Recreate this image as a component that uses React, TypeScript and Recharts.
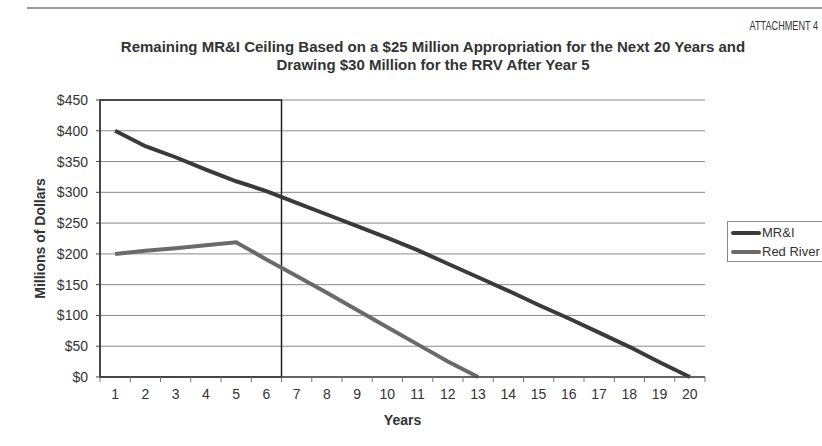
import React from "react";
import {
  LineChart,
  Line,
  XAxis,
  YAxis,
  CartesianGrid,
  Legend,
  ReferenceArea,
} from "recharts";

const years = [1, 2, 3, 4, 5, 6, 7, 8, 9, 10, 11, 12, 13, 14, 15, 16, 17, 18, 19, 20];
const mriValues = [400, 375, 357, 337, 318, 302, 283, 264, 245, 226, 206, 184, 162, 140, 117, 95, 72, 49, 24, 0];
const redRiverValues = [200, 205, 209, 214, 219, 191, 164, 137, 109, 81, 53, 25, 0];
const yTicks = [0, 50, 100, 150, 200, 250, 300, 350, 400, 450];

const W = 822;
const H = 446;
const MARGIN = { top: 100, right: 117, bottom: 19, left: 0 };
const Y_AXIS_W = 100;
const FONT = "'Liberation Sans', Arial, sans-serif";

const data = years.map((y, i) => ({
  year: y,
  mri: mriValues[i],
  red: i < redRiverValues.length ? redRiverValues[i] : null,
}));

// band width of the category axis, used to put tick marks between years like Excel
const bandW = (W - MARGIN.left - MARGIN.right - Y_AXIS_W) / years.length;

const XTick = (props: any) => {
  const { x, y, payload, index } = props;
  const last = index === years.length - 1;
  return (
    <g>
      <line x1={x - bandW / 2} x2={x - bandW / 2} y1={y - 8} y2={y - 3} stroke="#777" />
      {last && <line x1={x + bandW / 2} x2={x + bandW / 2} y1={y - 8} y2={y - 3} stroke="#777" />}
      <text x={x} y={y + 14} textAnchor="middle" fontSize={14} fill="#333" fontFamily={FONT}>
        {payload.value}
      </text>
    </g>
  );
};

const LegendBox = () => (
  <div
    style={{
      border: "1px solid #888",
      width: 110,
      height: 41,
      fontFamily: FONT,
      fontSize: 13,
      color: "#333",
      boxSizing: "border-box",
      paddingTop: 1,
    }}
  >
    {[
      { name: "MR&I", color: "#3a3a3a" },
      { name: "Red River", color: "#6a6a6a" },
    ].map((s) => (
      <div key={s.name} style={{ display: "flex", alignItems: "center", height: 19 }}>
        <span
          style={{
            display: "inline-block",
            width: 30,
            height: 4,
            background: s.color,
            marginLeft: 3,
            marginRight: 1,
            borderRadius: 2,
          }}
        />
        <span style={{ whiteSpace: "nowrap" }}>{s.name}</span>
      </div>
    ))}
  </div>
);

export default function App() {
  return (
    <div
      style={{
        position: "fixed",
        left: 0,
        top: 0,
        width: W,
        height: H,
        overflow: "hidden",
        background: "#fff",
        fontFamily: FONT,
      }}
    >
      <div style={{ position: "absolute", left: 27, right: 0, top: 7, borderTop: "2px solid #999" }} />
      <div
        style={{
          position: "absolute",
          right: 4,
          top: 19,
          fontSize: 12,
          color: "#333",
          transform: "scaleX(0.76)",
          transformOrigin: "right center",
        }}
      >
        ATTACHMENT 4
      </div>
      <div
        style={{
          position: "absolute",
          left: 0,
          width: 866,
          top: 38,
          textAlign: "center",
          fontSize: 15,
          fontWeight: "bold",
          color: "#333",
          lineHeight: "18px",
        }}
      >
        Remaining MR&amp;I Ceiling Based on a $25 Million Appropriation for the Next 20 Years and
        <br />
        Drawing $30 Million for the RRV After Year 5
      </div>
      <LineChart width={W} height={H} data={data} margin={MARGIN} style={{ position: "absolute", left: 0, top: 0 }}>
        <CartesianGrid horizontal vertical={false} stroke="#8a8a8a" strokeWidth={1} />
        <XAxis
          dataKey="year"
          type="category"
          scale="band"
          height={50}
          tickLine={false}
          tick={<XTick />}
          axisLine={{ stroke: "#444", strokeWidth: 1.5 }}
          interval={0}
          label={{
            value: "Years",
            position: "insideBottom",
            offset: 2,
            style: { fontSize: 14, fontWeight: "bold", fill: "#333", fontFamily: FONT },
          }}
        />
        <YAxis
          width={Y_AXIS_W}
          domain={[0, 450]}
          ticks={yTicks}
          interval={0}
          tickSize={4}
          tickMargin={8}
          tickLine={{ stroke: "#444" }}
          axisLine={{ stroke: "#444", strokeWidth: 1.5 }}
          tickFormatter={(v: number) => `$${v}`}
          tick={{ fontSize: 14, fill: "#333", fontFamily: FONT }}
          label={{
            value: "Millions of Dollars",
            angle: -90,
            position: "center",
            dx: -10,
            style: { fontSize: 14, fontWeight: "bold", fill: "#333", fontFamily: FONT, textAnchor: "middle" },
          }}
        />
        <YAxis
          yAxisId="right"
          orientation="right"
          width={0}
          domain={[0, 450]}
          tick={false}
          tickLine={false}
          axisLine={{ stroke: "#8a8a8a" }}
        />
        <ReferenceArea
          x1={1}
          x2={6}
          y1={0}
          y2={450}
          fill="none"
          fillOpacity={0}
          stroke="#222"
          strokeWidth={1.5}
          ifOverflow="visible"
        />
        <Line
          type="linear"
          dataKey="mri"
          name="MR&I"
          stroke="#3a3a3a"
          strokeWidth={4}
          dot={false}
          isAnimationActive={false}
        />
        <Line
          type="linear"
          dataKey="red"
          name="Red River"
          stroke="#6a6a6a"
          strokeWidth={4}
          dot={false}
          connectNulls={false}
          isAnimationActive={false}
        />
        <Legend
          layout="horizontal"
          verticalAlign="middle"
          align="center"
          content={<LegendBox />}
          wrapperStyle={{ position: "absolute", left: 727, top: 221, width: 110 }}
        />
      </LineChart>
    </div>
  );
}
